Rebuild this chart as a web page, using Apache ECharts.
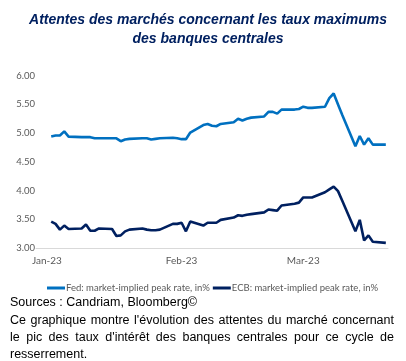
<!DOCTYPE html>
<html><head><meta charset="utf-8">
<script src="https://cdn.jsdelivr.net/npm/echarts@6/dist/echarts.min.js"></script>
<style>html,body{margin:0;padding:0;background:#fff}#c{width:406px;height:361px}</style>
</head><body><div id="c"></div>
<script>
// ---- data ----
const dates = [
  '2023-01-02','2023-01-03','2023-01-04','2023-01-05','2023-01-06',
  '2023-01-09','2023-01-10','2023-01-11','2023-01-12','2023-01-13',
  '2023-01-16','2023-01-17','2023-01-18','2023-01-19','2023-01-20',
  '2023-01-23','2023-01-24','2023-01-25','2023-01-26','2023-01-27',
  '2023-01-30','2023-01-31',
  '2023-02-01','2023-02-02','2023-02-03',
  '2023-02-06','2023-02-07','2023-02-08','2023-02-09','2023-02-10',
  '2023-02-13','2023-02-14','2023-02-15','2023-02-16','2023-02-17',
  '2023-02-20','2023-02-21','2023-02-22','2023-02-23','2023-02-24',
  '2023-02-27','2023-02-28',
  '2023-03-01','2023-03-02','2023-03-03',
  '2023-03-06','2023-03-07','2023-03-08','2023-03-09','2023-03-10',
  '2023-03-13','2023-03-14','2023-03-15','2023-03-16','2023-03-17',
  '2023-03-20'
];
const fedPeak = [
  4.94,4.96,4.96,5.03,4.94,
  4.93,4.93,4.93,4.91,4.91,
  4.91,4.91,4.86,4.89,4.90,
  4.91,4.91,4.89,4.90,4.91,
  4.92,4.91,
  4.895,4.895,5.01,
  5.14,5.16,5.13,5.12,5.16,
  5.19,5.25,5.22,5.25,5.27,
  5.29,5.37,5.37,5.34,5.41,
  5.41,5.42,
  5.46,5.44,5.44,
  5.46,5.61,5.69,5.50,5.31,
  4.77,4.95,4.80,4.91,4.80,
  4.80
];
const ecbPeak = [
  3.46,3.42,3.32,3.39,3.33,
  3.34,3.41,3.30,3.30,3.34,
  3.33,3.21,3.22,3.29,3.32,
  3.34,3.32,3.31,3.31,3.32,
  3.42,3.42,
  3.44,3.29,3.46,
  3.39,3.44,3.44,3.44,3.49,
  3.53,3.57,3.56,3.58,3.59,
  3.62,3.67,3.66,3.65,3.74,
  3.77,3.79,
  3.88,3.88,3.88,
  3.97,4.02,4.07,3.99,3.82,
  3.29,3.49,3.13,3.22,3.11,
  3.09
];
const seriesNames = ['Fed: market-implied peak rate, in%', 'ECB: market-implied peak rate, in%'];
const monthStarts = ['2023-01-01','2023-02-01','2023-03-01'];
const monthLabels = ['Jan-23','Feb-23','Mar-23'];
const titleLines = ['Attentes des marchés concernant les taux maximums', 'des banques centrales'];
const footLines = [
  'Sources : Candriam, Bloomberg©',
  "Ce graphique montre l'évolution des attentes du marché concernant",
  "le pic des taux d'intérêt des banques centrales pour ce cycle de",
  'resserrement.'
];
const footJustify = [false, true, true, false];

// ---- helpers ----
const DAY = 864e5;
function dayNum(s){ const p = s.split('-').map(Number); return Math.round((Date.UTC(p[0], p[1]-1, p[2]) - Date.UTC(2023,0,1))/DAY); }
const monthDays = monthStarts.map(dayNum);

const chart = echarts.init(document.getElementById('c'), null, {renderer:'canvas'});

const FOOT_FONT = '12.5px "Liberation Sans", Arial, sans-serif';
const footLeft = 10, footRight = 394;
const footY = [303, 320.5, 338, 355];
const mctx = document.createElement('canvas').getContext('2d');
mctx.font = FOOT_FONT;
const graphics = [];
titleLines.forEach((t,i)=>{
  graphics.push({type:'text', x: 208, y: 20 + i*19,
    style:{text:t, fill:'#002060', align:'center', verticalAlign:'middle',
      font:'italic bold 14px "Liberation Sans", Arial, sans-serif'}});
});
footLines.forEach((line,i)=>{
  if(!footJustify[i]){
    graphics.push({type:'text', x:footLeft, y:footY[i],
      style:{text:line, fill:'#000', font:FOOT_FONT, verticalAlign:'middle'}});
  } else {
    const words = line.split(' ');
    const widths = words.map(w=>mctx.measureText(w).width);
    const total = widths.reduce((a,b)=>a+b,0);
    const gap = (footRight - footLeft - total)/(words.length-1);
    let x = footLeft;
    words.forEach((w,k)=>{
      graphics.push({type:'text', x:x, y:footY[i],
        style:{text:w, fill:'#000', font:FOOT_FONT, verticalAlign:'middle'}});
      x += widths[k] + gap;
    });
  }
});

chart.setOption({
  animation:false,
  backgroundColor:'#fff',
  graphic: graphics,
  legend:{
    top: 278, left: 42,
    itemWidth: 18, itemHeight: 3, itemGap: 3,
    icon: 'rect',
    textStyle:{color:'#595959', fontSize:9.5, fontFamily:'Lato, "Noto Sans", sans-serif', padding:[0,0,0,-4]},
    data: seriesNames
  },
  grid:{left:36, right:18, top:75.7, bottom:113},
  xAxis:{
    type:'value',
    min: -2.5,
    max: 78.5,
    axisLine:{show:true, lineStyle:{color:'#d9d9d9', width:1}},
    axisTick:{show:false},
    splitLine:{show:false},
    axisLabel:{
      customValues: monthDays,
      color:'#595959', fontSize:10, fontFamily:'Lato, "Noto Sans", sans-serif', margin:8,
      formatter: function(v){ const k = monthDays.indexOf(Math.round(v)); return k>=0?monthLabels[k]:''; }
    }
  },
  yAxis:{
    type:'value', min:3, max:6, interval:0.5,
    axisLine:{show:false}, axisTick:{show:false}, splitLine:{show:false},
    axisLabel:{color:'#595959', fontSize:9.5, fontFamily:'Lato, "Noto Sans", sans-serif', margin:1,
      formatter: v=>v.toFixed(2)}
  },
  series:[
    {name:seriesNames[0], type:'line', showSymbol:false, symbol:'none',
     data: dates.map((d,i)=>[dayNum(d), fedPeak[i]]),
     itemStyle:{color:'#0070C0'}, lineStyle:{color:'#0070C0', width:2.6}},
    {name:seriesNames[1], type:'line', showSymbol:false, symbol:'none',
     data: dates.map((d,i)=>[dayNum(d), ecbPeak[i]]),
     itemStyle:{color:'#002060'}, lineStyle:{color:'#002060', width:2.6}}
  ]
});
</script></body></html>
